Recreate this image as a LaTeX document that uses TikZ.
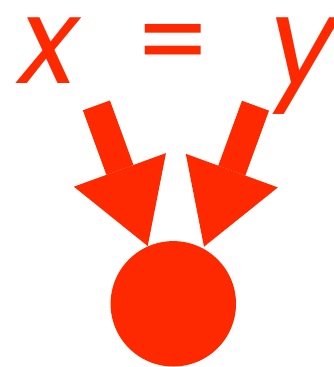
\documentclass[tikz,border=0pt]{standalone}
\usepackage{fontspec}
\setmainfont{Lato}
\newfontfamily\varfont{Poppins}
\usetikzlibrary{arrows.meta}
\definecolor{signalred}{RGB}{255,41,0}

\begin{document}
\begin{tikzpicture}[x=1pt, y=-1pt, font=\fontsize{130}{130}\selectfont,
    sym/.style={text=signalred, inner sep=0pt, anchor=base,
      text height=66pt, text depth=34pt},
    var/.style={sym, font=\varfont\itshape\fontsize{120}{120}\selectfont},
    bigarrow/.style={signalred, line width=28.8pt,
      -{Triangle[length=81pt, width=98pt, line width=0pt]}}]
    \useasboundingbox (0,0) rectangle (333,367);
    \node[var] (x) at (49,83) {x};
    \node[sym] (eq) at (173,83) {=};
    \node[var] (y) at (303,83) {y};
    \node[circle, fill=signalred, minimum size=125.4pt, inner sep=0pt] (dot) at (173.3,303.8) {};
    \coordinate (xs) at (96.4,105.4);
    \coordinate (ys) at (255.5,105.7);
    \draw[bigarrow] (xs) -- (147.7,246) coordinate (xt);
    \draw[bigarrow] (ys) -- (204,246.7) coordinate (yt);
  \end{tikzpicture}
\end{document}
